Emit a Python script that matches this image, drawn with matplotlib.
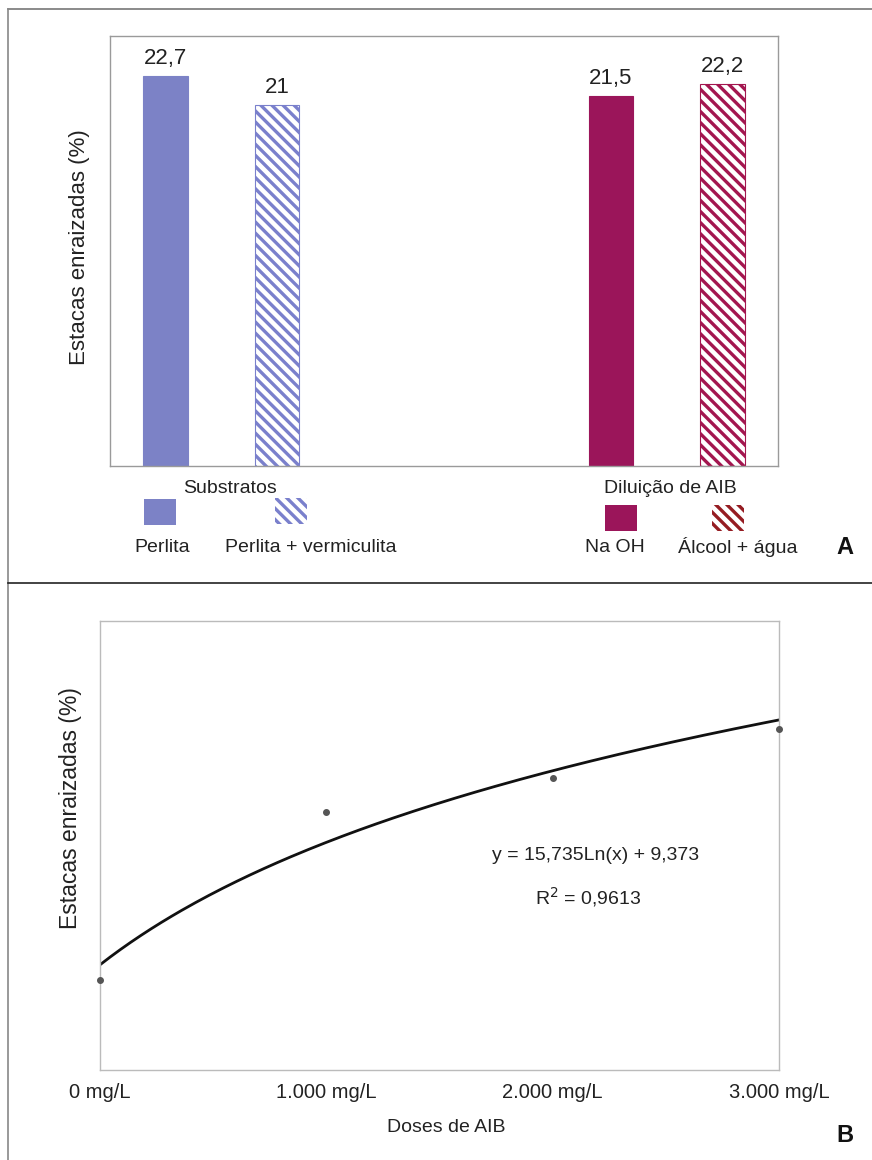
import matplotlib
matplotlib.use("Agg")
import matplotlib.pyplot as plt
import numpy as np
from matplotlib.patches import Rectangle
from matplotlib.lines import Line2D

plt.rcParams['font.family'] = ['Liberation Sans', 'DejaVu Sans']
plt.rcParams['hatch.linewidth'] = 2.4

# Panel A data
bar_labels = ["Perlita", "Perlita + vermiculita", "Na OH", "Álcool + água"]
bar_values = [22.7, 21.0, 21.5, 22.2]
bar_text = ["22,7", "21", "21,5", "22,2"]
bar_pos = [0, 1, 4, 5]
group_names = ["Substratos", "Diluição de AIB"]

# Panel B data
dose_labels = ["0 mg/L", "1.000 mg/L", "2.000 mg/L", "3.000 mg/L"]
dose_cat = [1, 2, 3, 4]
rooted = [8.0, 23.0, 26.0, 30.4]
coef_a = 15.735
coef_b = 9.373

W, H = 872, 1160
fig = plt.figure(figsize=(W / 100, H / 100), dpi=100)

def fx(x):
    return x / W

def fy(y):
    return 1 - y / H

blue = '#7c82c6'
blue_h = '#7a80cc'
mag = '#9b155a'
red_h = '#a3164f'
red_leg = '#951c22'
txt = '#222222'

# frame lines around the panels
fig.add_artist(Line2D([fx(8), 1], [fy(9), fy(9)], color='#777777', lw=1.2))
fig.add_artist(Line2D([fx(8), fx(8)], [fy(9), 0], color='#888888', lw=1.2))
fig.add_artist(Line2D([fx(8), 1], [fy(583), fy(583)], color='#222222', lw=1.2))

# ---- Panel A ----
axA = fig.add_axes([fx(110), fy(466), (778 - 110) / W, (466 - 36) / H])
styles = [
    dict(color=blue, edgecolor=blue, hatch=None),
    dict(color='white', edgecolor=blue_h, hatch='\\\\\\'),
    dict(color=mag, edgecolor=mag, hatch=None),
    dict(color='white', edgecolor=red_h, hatch='\\\\\\'),
]
for p, v, t, st in zip(bar_pos, bar_values, bar_text, styles):
    axA.bar(p, v, width=0.4, color=st['color'], edgecolor=st['edgecolor'],
            hatch=st['hatch'], linewidth=0.8)
    axA.annotate(t, (p, v), xytext=(0, 5), textcoords='offset points',
                 ha='center', va='bottom', fontsize=16, color=txt)
axA.set_xlim(-0.5, 5.5)
axA.set_ylim(0, 25)
axA.set_xticks([])
axA.set_yticks([])
for s in axA.spines.values():
    s.set_color('#9a9a9a')
    s.set_linewidth(1)

fig.text(fx(80), fy(247), "Estacas enraizadas (%)", rotation=90, ha='center',
         va='center', fontsize=16, color=txt)

# legend area
fig.text(fx(230), fy(489), group_names[0], ha='center', va='center', fontsize=14, color=txt)
fig.text(fx(670), fy(489), group_names[1], ha='center', va='center', fontsize=14, color=txt)

leg = [(144, 499, blue, blue, None), (275, 498, 'white', blue_h, '\\\\\\'),
       (605, 505, mag, mag, None), (712, 505, 'white', red_leg, '\\\\\\')]
for x0, y0, fc, ec, ht in leg:
    r = Rectangle((fx(x0), fy(y0 + 26)), 32 / W, 26 / H, transform=fig.transFigure,
                  facecolor=fc, edgecolor=ec, hatch=ht, linewidth=0)
    fig.add_artist(r)

lab_x = [162, 311, 615, 738]
for lx, lab in zip(lab_x, bar_labels):
    fig.text(fx(lx), fy(547), lab, ha='center', va='center', fontsize=14, color=txt)

fig.text(fx(845), fy(548), "A", ha='center', va='center', fontsize=17,
         fontweight='bold', color='#111111')

# ---- Panel B ----
axB = fig.add_axes([fx(100), fy(1070), (779 - 100) / W, (1070 - 621) / H])
xs = np.linspace(1, 4, 200)
axB.plot(xs, coef_a * np.log(xs) + coef_b, color='#111111', lw=2)
axB.plot(dose_cat, rooted, 'o', color='#555555', ms=4, clip_on=False, zorder=3)
axB.set_xlim(1, 4)
axB.set_ylim(0, 40)
axB.set_yticks([])
axB.set_xticks(dose_cat)
axB.set_xticklabels(dose_labels, fontsize=14.5, color=txt)
axB.tick_params(axis='x', length=0, pad=9)
for s in axB.spines.values():
    s.set_color('#bbbbbb')
    s.set_linewidth(1)

fig.text(fx(70), fy(808), "Estacas enraizadas (%)", rotation=90, ha='center',
         va='center', fontsize=16.5, color=txt)
fig.text(fx(446), fy(1127), "Doses de AIB", ha='center', va='center', fontsize=14, color=txt)
fig.text(fx(596), fy(856), "y = 15,735Ln(x) + 9,373", ha='center', va='center',
         fontsize=14, color=txt)
fig.text(fx(588), fy(897), "R$^2$ = 0,9613", ha='center', va='center',
         fontsize=14, color=txt)
fig.text(fx(845), fy(1135), "B", ha='center', va='center', fontsize=17,
         fontweight='bold', color='#111111')

fig.savefig("out.png", dpi=100)
